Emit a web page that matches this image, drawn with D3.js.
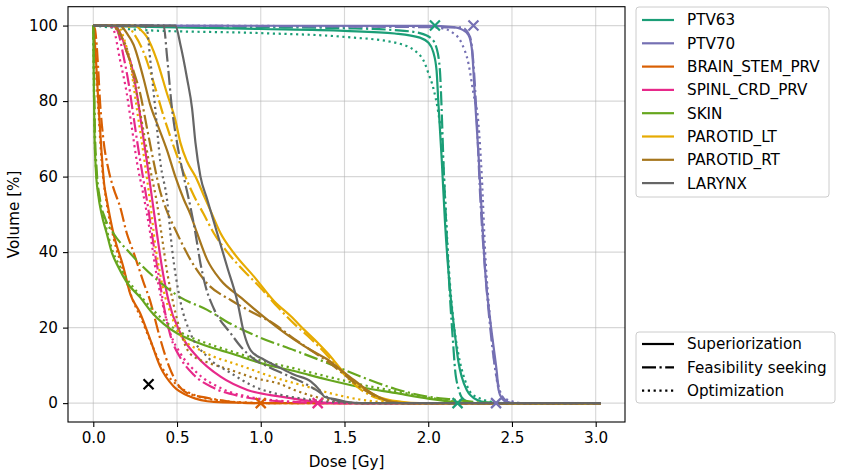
<!DOCTYPE html>
<html><head><meta charset="utf-8">
<script src="https://cdn.jsdelivr.net/npm/d3@7"></script>
<style>
html,body{margin:0;padding:0;background:#fff;}
text{font-family:"DejaVu Sans",sans-serif;}
</style></head>
<body><svg id="c" width="843" height="476"></svg>
<script>
// ---- data ----
const structures = ["PTV63","PTV70","BRAIN_STEM_PRV","SPINL_CRD_PRV","SKIN","PAROTID_LT","PAROTID_RT","LARYNX"];
const colors = ["#1b9e77","#7570b3","#d95f02","#e7298a","#66a61e","#e6ab02","#a6761d","#666666"];
const methods = ["Superiorization","Feasibility seeking","Optimization"];
const xTicks = [0.0,0.5,1.0,1.5,2.0,2.5,3.0];
const yTicks = [0,20,40,60,80,100];
const maxDose = 3.03;

// [dose Gy, volume %]
const ptv63_sup = [[0,100],[0.5,99.5],[1.0,99.1],[1.5,98.6],[1.8,97.9],[1.95,96.8],[2.0,95.5],[2.03,93],[2.05,88],[2.06,80],[2.08,65],[2.1,48],[2.13,30],[2.16,18],[2.18,11],[2.2,7],[2.23,3.5],[2.29,0.9],[2.35,0.2],[2.45,0]];
const ptv63_fea = [[0,100],[1.0,99.6],[1.5,99.3],[1.8,98.8],[1.95,98],[2.02,96.5],[2.05,94],[2.07,88],[2.08,78],[2.09,65],[2.11,45],[2.13,28],[2.15,15],[2.16,9],[2.18,4],[2.2,1.5],[2.24,0.3],[2.3,0]];
const ptv63_opt = [[0,100],[0.3,98.8],[1.0,98.0],[1.5,97],[1.8,95.5],[1.93,93],[1.98,90],[2.0,87.5],[2.03,83.5],[2.06,77],[2.08,70],[2.1,55],[2.12,38],[2.15,22],[2.18,13],[2.22,6],[2.25,3],[2.31,1.2],[2.37,0.4],[2.45,0]];

const ptv70_sup = [[0,100],[2.0,99.9],[2.15,99.6],[2.2,99],[2.24,97.5],[2.26,94],[2.27,88],[2.28,80],[2.3,66],[2.32,50],[2.34,35],[2.37,22],[2.39,15],[2.41,8],[2.42,3.5],[2.44,1.2],[2.47,0.3],[2.52,0]];
const ptv70_fea = [[0,100],[2.2,99.5],[2.25,97],[2.27,90],[2.29,75],[2.31,55],[2.34,35],[2.37,20],[2.4,9],[2.43,3],[2.46,0.8],[2.5,0]];
const ptv70_opt = [[0,100],[2.0,99.7],[2.08,99.3],[2.14,98.3],[2.2,95.3],[2.24,90],[2.27,82],[2.3,74],[2.32,60],[2.34,40],[2.37,22],[2.39,13],[2.41,6],[2.44,1.7],[2.5,0.5],[2.56,0]];

const brain_sup = [[0,100],[0.01,95],[0.03,80],[0.05,66],[0.065,58],[0.08,54],[0.12,45],[0.18,36],[0.22,29],[0.28,23.8],[0.34,16.8],[0.4,9.6],[0.48,4.4],[0.58,1.7],[0.72,0.35],[0.9,0.1],[1.0,0]];
const brain_fea = [[0,100],[0.01,99],[0.02,95],[0.03,88],[0.04,80],[0.06,70],[0.09,62],[0.12,57],[0.16,52],[0.2,45],[0.24,40],[0.27,36],[0.3,32],[0.34,27],[0.37,22],[0.4,17],[0.45,10],[0.5,5.3],[0.56,2.7],[0.68,1.4],[0.8,0.5],[0.95,0]];
const brain_opt = [[0,100],[0.01,93],[0.03,78],[0.05,64],[0.08,53],[0.12,44],[0.18,35],[0.23,28],[0.29,22],[0.35,15.5],[0.41,9.5],[0.5,4.8],[0.6,2.2],[0.75,0.7],[0.95,0.1],[1.05,0]];

const spinal_sup = [[0,100],[0.1,100],[0.14,99.5],[0.17,97],[0.2,93],[0.22,90.8],[0.26,82],[0.29,73],[0.32,64],[0.35,54.5],[0.38,45],[0.41,36],[0.45,27],[0.52,18.5],[0.62,12.3],[0.76,7],[0.92,3.5],[1.12,1.7],[1.34,0.3],[1.45,0]];
const spinal_fea = [[0,100],[0.12,100],[0.15,98],[0.18,92],[0.21,85],[0.24,76],[0.27,67],[0.3,59],[0.33,51],[0.36,42],[0.39,34],[0.42,26],[0.46,18],[0.52,12],[0.6,7.5],[0.72,4],[0.88,1.8],[1.05,0.7],[1.25,0.2],[1.4,0]];
const spinal_opt = [[0,100],[0.09,100],[0.12,99],[0.16,90.8],[0.2,82],[0.23,73],[0.26,64],[0.3,55],[0.34,45],[0.37,36],[0.41,27],[0.46,18.5],[0.52,13.2],[0.62,8],[0.76,4],[0.96,1.4],[1.12,0.6],[1.3,0.1],[1.4,0]];

const skin_sup = [[0,100],[0.003,85],[0.007,72],[0.015,62],[0.03,55],[0.05,50],[0.08,45],[0.11,40],[0.15,36],[0.2,32],[0.28,28],[0.35,24],[0.42,21],[0.5,18.5],[0.58,16.8],[0.7,14.8],[0.82,13.2],[1.0,10.6],[1.2,8.5],[1.4,6.2],[1.6,4.2],[1.8,2.7],[2.0,1.2],[2.16,0.3],[2.3,0]];
const skin_fea = [[0,100],[0.005,85],[0.01,72],[0.02,62],[0.04,54],[0.07,49],[0.12,45],[0.22,39.7],[0.36,33.5],[0.52,28],[0.68,24.7],[0.82,21],[1.0,17.3],[1.2,14],[1.4,10.6],[1.6,7],[1.8,3.8],[2.0,1.7],[2.16,0.9],[2.3,0.2],[2.4,0]];
const skin_opt = [[0,100],[0.003,86],[0.007,73],[0.015,63],[0.03,56],[0.05,51],[0.08,46],[0.11,41],[0.15,37],[0.2,33],[0.28,28.5],[0.35,25],[0.42,22],[0.5,19.3],[0.58,17.5],[0.7,15.5],[0.82,13.8],[1.0,11.3],[1.2,9.2],[1.4,7],[1.6,4.9],[1.8,3.2],[2.0,1.5],[2.16,0.4],[2.3,0]];

const parlt_sup = [[0,100],[0.25,100],[0.28,99],[0.32,97],[0.38,90.8],[0.44,82],[0.49,75],[0.52,69],[0.56,64],[0.61,60],[0.66,55],[0.7,51],[0.76,45],[0.84,39.7],[0.96,33.5],[1.08,27],[1.18,23],[1.26,19.4],[1.34,16],[1.4,13.2],[1.5,8],[1.6,4.4],[1.7,1.7],[1.84,0.35],[1.95,0]];
const parlt_fea = [[0,100],[0.2,100],[0.24,98],[0.3,93],[0.36,85],[0.42,76],[0.48,68],[0.54,61],[0.6,55],[0.66,50],[0.72,45],[0.8,40],[0.9,35],[1.0,30.5],[1.1,25.5],[1.2,21],[1.3,17],[1.4,12.5],[1.5,7.5],[1.6,3.5],[1.7,1.2],[1.8,0.2],[1.9,0]];
const parlt_opt = [[0,100],[0.15,100],[0.18,97],[0.22,90],[0.26,78],[0.3,66],[0.34,53],[0.37,42],[0.4,34],[0.43,28],[0.46,24],[0.5,19.5],[0.56,16],[0.64,14],[0.72,12.3],[0.82,10.8],[0.92,9.3],[1.0,8],[1.12,6.3],[1.25,4.7],[1.4,2.8],[1.6,0.9],[1.75,0.2],[1.85,0]];

const parrt_sup = [[0,100],[0.16,100],[0.2,98],[0.24,95],[0.3,86],[0.34,79],[0.39,73],[0.44,67],[0.49,60],[0.54,54],[0.58,50],[0.62,45],[0.68,38],[0.76,32.6],[0.88,28],[1.0,23.5],[1.1,20],[1.2,16.8],[1.3,14],[1.4,11.5],[1.5,8],[1.56,6],[1.66,2.7],[1.74,0.9],[1.8,0.2],[1.85,0]];
const parrt_fea = [[0,100],[0.12,100],[0.16,98],[0.2,93],[0.24,88],[0.28,82],[0.32,73],[0.36,64],[0.4,56],[0.43,52],[0.5,45],[0.58,38],[0.68,31.7],[0.82,27.3],[0.96,23.8],[1.08,21],[1.2,17],[1.3,14],[1.4,11],[1.5,7.5],[1.6,4],[1.7,1.5],[1.78,0.3],[1.85,0]];
const parrt_opt = [[0,100],[0.12,100],[0.15,98],[0.2,94],[0.25,84],[0.3,72],[0.34,62],[0.38,53],[0.41,44],[0.44,35],[0.48,26],[0.52,19],[0.58,13],[0.7,10.5],[0.82,8.8],[0.95,6.8],[1.12,5],[1.2,3.5],[1.3,2],[1.4,0.9],[1.5,0.3],[1.6,0]];

const larynx_sup = [[0,100],[0.49,100],[0.52,95],[0.56,86],[0.59,78],[0.61,69],[0.64,60],[0.68,54],[0.74,45],[0.8,36],[0.86,27],[0.9,18.5],[0.94,14],[1.02,11.5],[1.1,9.7],[1.2,7.5],[1.3,5.7],[1.35,3.5],[1.38,1.7],[1.46,0.9],[1.52,0.3],[1.6,0]];
const larynx_fea = [[0,100],[0.42,100],[0.44,92],[0.47,78],[0.5,69],[0.54,60],[0.58,52],[0.61,45],[0.64,37],[0.67,31],[0.72,25],[0.82,18.5],[0.88,15],[0.95,12],[1.05,9.5],[1.15,7.5],[1.25,5.5],[1.33,3.5],[1.4,1.5],[1.5,0.3],[1.55,0]];
const larynx_opt = [[0,100],[0.3,100],[0.32,99],[0.34,91],[0.37,78],[0.4,64],[0.44,54],[0.47,41],[0.52,27],[0.58,18.5],[0.68,12.3],[0.82,8],[0.96,4.4],[1.12,2.2],[1.3,0.9],[1.45,0.2],[1.55,0]];

const curves = [
  [ptv63_sup, ptv63_fea, ptv63_opt],
  [ptv70_sup, ptv70_fea, ptv70_opt],
  [brain_sup, brain_fea, brain_opt],
  [spinal_sup, spinal_fea, spinal_opt],
  [skin_sup, skin_fea, skin_opt],
  [parlt_sup, parlt_fea, parlt_opt],
  [parrt_sup, parrt_fea, parrt_opt],
  [larynx_sup, larynx_fea, larynx_opt]
];

// markers: [dose, volume, structure index or -1 for black]
const markers = [[2.04,100,0],[2.175,0,0],[2.27,100,1],[2.405,0,1],[1.0,0,2],[1.34,0,3],[0.33,5,-1]];

// ---- drawing ----
const svg = d3.select("#c");
const L=68, R=625, T=6.7, B=422;
const x = d3.scaleLinear().domain([-0.151, 3.175]).range([L, R]);
const y = d3.scaleLinear().domain([-5, 105]).range([B, T]);
const FS = "15.2px";
const dashes = [null, "14,3.5,2.2,3.5", "2.2,3.6"];

svg.append("rect").attr("x",0).attr("y",0).attr("width",843).attr("height",476).attr("fill","#fff");

// grid
const g = svg.append("g");
g.selectAll(".gx").data(xTicks).join("line")
  .attr("x1",d=>x(d)).attr("x2",d=>x(d)).attr("y1",T).attr("y2",B)
  .attr("stroke","#b0b0b0").attr("stroke-opacity",0.5).attr("stroke-width",1.1);
g.selectAll(".gy").data(yTicks).join("line")
  .attr("y1",d=>y(d)).attr("y2",d=>y(d)).attr("x1",L).attr("x2",R)
  .attr("stroke","#b0b0b0").attr("stroke-opacity",0.5).attr("stroke-width",1.1);

// clip
svg.append("clipPath").attr("id","clip").append("rect").attr("x",L).attr("y",T).attr("width",R-L).attr("height",B-T);

const line = d3.line().x(d=>x(d[0])).y(d=>y(d[1])).curve(d3.curveMonotoneX);
const plot = svg.append("g").attr("clip-path","url(#clip)");
curves.forEach((set,si)=>{
  set.forEach((pts,mi)=>{
    const data = pts.slice();
    if (data[data.length-1][0] < maxDose) data.push([maxDose,0]);
    plot.append("path").datum(data).attr("d",line)
      .attr("fill","none").attr("stroke",colors[si]).attr("stroke-width",2.2)
      .attr("stroke-dasharray",dashes[mi]).attr("stroke-linejoin","round");
  });
});

// markers
const ms = 5;
markers.forEach(m=>{
  const cx=x(m[0]), cy=y(m[1]);
  const col = m[2] < 0 ? "#000" : colors[m[2]];
  plot.append("path").attr("d",`M${cx-ms},${cy-ms}L${cx+ms},${cy+ms}M${cx-ms},${cy+ms}L${cx+ms},${cy-ms}`)
    .attr("stroke",col).attr("stroke-width",2.2).attr("fill","none");
});

// axes
const xa = svg.append("g").attr("transform",`translate(0,${B})`)
  .call(d3.axisBottom(x).tickValues(xTicks).tickFormat(d3.format(".1f")).tickSize(5).tickPadding(5));
const ya = svg.append("g").attr("transform",`translate(${L},0)`)
  .call(d3.axisLeft(y).tickValues(yTicks).tickFormat(d3.format("d")).tickSize(5).tickPadding(5));
[xa,ya].forEach(a=>{
  a.select(".domain").remove();
  a.selectAll("text").attr("font-size",FS).attr("fill","#000").attr("font-family","DejaVu Sans");
  a.selectAll("line").attr("stroke","#000").attr("stroke-width",1.1);
});
svg.append("rect").attr("x",L).attr("y",T).attr("width",R-L).attr("height",B-T)
  .attr("fill","none").attr("stroke","#000").attr("stroke-width",1.1);

svg.append("text").attr("x",(L+R)/2).attr("y",467).attr("text-anchor","middle").attr("font-size",FS).text("Dose [Gy]");
svg.append("text").attr("transform",`translate(19,${(T+B)/2}) rotate(-90)`).attr("text-anchor","middle").attr("font-size",FS).text("Volume [%]");

// legend 1
const lg1 = svg.append("g");
lg1.append("rect").attr("x",636).attr("y",7).attr("width",193).attr("height",190).attr("rx",3)
  .attr("fill","#fff").attr("fill-opacity",0.8).attr("stroke","#cccccc").attr("stroke-width",1);
structures.forEach((s,i)=>{
  const yy = 20 + i*23.3;
  lg1.append("line").attr("x1",642).attr("x2",674).attr("y1",yy).attr("y2",yy).attr("stroke",colors[i]).attr("stroke-width",2.2);
  lg1.append("text").attr("x",687).attr("y",yy+5.4).attr("font-size",FS).text(s);
});
// legend 2
const lg2 = svg.append("g");
lg2.append("rect").attr("x",636).attr("y",332).attr("width",199).attr("height",71).attr("rx",3)
  .attr("fill","#fff").attr("fill-opacity",0.8).attr("stroke","#cccccc").attr("stroke-width",1);
methods.forEach((m,i)=>{
  const yy = 344 + i*23.3;
  lg2.append("line").attr("x1",642).attr("x2",674).attr("y1",yy).attr("y2",yy).attr("stroke","#000").attr("stroke-width",2.2).attr("stroke-dasharray",dashes[i]);
  lg2.append("text").attr("x",687).attr("y",yy+5.4).attr("font-size",FS).text(m);
});
</script></body></html>
